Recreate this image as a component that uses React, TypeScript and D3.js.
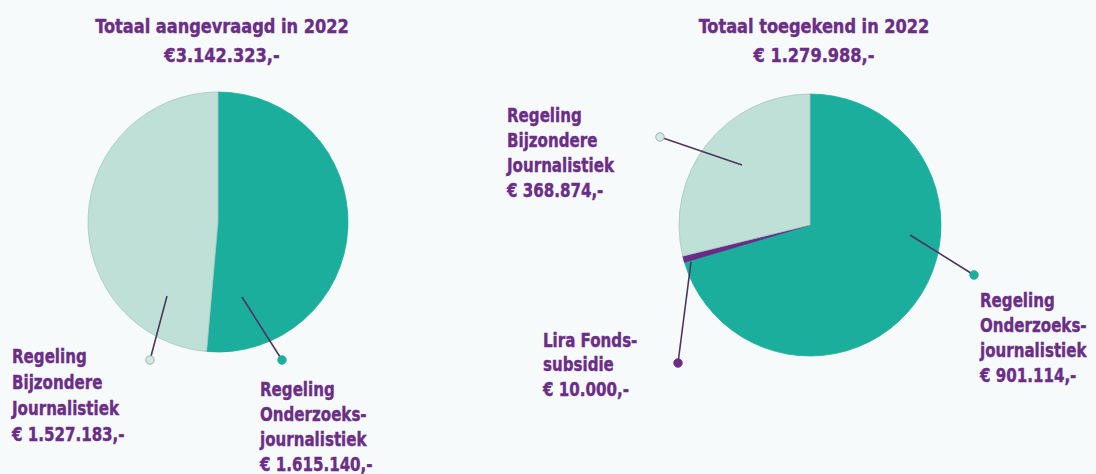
import React from "react";
import * as d3 from "d3";

const W = 1096;
const H = 474;

// Data
const requestedTitle = ["Totaal aangevraagd in 2022", "€3.142.323,-"];
const grantedTitle = ["Totaal toegekend in 2022", "€ 1.279.988,-"];

const requestedCategories = ["Regeling Onderzoeksjournalistiek", "Regeling Bijzondere Journalistiek"];
const requestedValues = [1615140, 1527183];
const requestedLabelLines = [
  ["Regeling", "Onderzoeks-", "journalistiek", "€ 1.615.140,-"],
  ["Regeling", "Bijzondere", "Journalistiek", "€ 1.527.183,-"],
];

const grantedCategories = ["Regeling Onderzoeksjournalistiek", "Lira Fonds-subsidie", "Regeling Bijzondere Journalistiek"];
const grantedValues = [901114, 10000, 368874];
const grantedLabelLines = [
  ["Regeling", "Onderzoeks-", "journalistiek", "€ 901.114,-"],
  ["Lira Fonds-", "subsidie", "€ 10.000,-"],
  ["Regeling", "Bijzondere", "Journalistiek", "€ 368.874,-"],
];

const COLORS: Record<string, string> = {
  "Regeling Onderzoeksjournalistiek": "#1bae9c",
  "Regeling Bijzondere Journalistiek": "#bfe0d6",
  "Lira Fonds-subsidie": "#6a2a86",
};
const DOT: Record<string, { fill: string; stroke: string }> = {
  "Regeling Onderzoeksjournalistiek": { fill: "#1bae9c", stroke: "#1bae9c" },
  "Regeling Bijzondere Journalistiek": { fill: "#d3e9e1", stroke: "#9cb3ad" },
  "Lira Fonds-subsidie": { fill: "#6a2a86", stroke: "#6a2a86" },
};

const TEXT = "#6b2d86";
const FONT = "'DejaVu Sans Condensed', 'DejaVu Sans', sans-serif";

type LabelLayout = {
  inner: [number, number];
  dot: [number, number];
  text: [number, number];
  lh: number;
};

function Pie({
  cx, cy, r, categories, values, title, labels, layout,
}: {
  cx: number; cy: number; r: number;
  categories: string[]; values: number[]; title: string[];
  labels: string[][]; layout: LabelLayout[];
}) {
  const pie = d3.pie<number>().sort(null).startAngle(0).endAngle(2 * Math.PI);
  const arcs = pie(values);
  const arc = d3.arc<d3.PieArcDatum<number>>().innerRadius(0).outerRadius(r);
  return (
    <g>
      <g transform={`translate(${cx},${cy})`}>
        {arcs.map((a, i) => (
          <path
            key={i}
            d={arc(a) || ""}
            fill={COLORS[categories[i]]}
            stroke={categories[i] === "Regeling Bijzondere Journalistiek" ? "#a8c6bd" : COLORS[categories[i]]}
            strokeWidth={0.8}
          />
        ))}
      </g>
      <g transform={`translate(${cx + 4},0) scale(0.9,1)`}>
        <text x={0} y={33} textAnchor="middle" fill={TEXT} stroke={TEXT} strokeWidth={0.4} fontFamily={FONT} fontWeight="bold" fontSize={20}>
          {title[0]}
        </text>
        <text x={0} y={62} textAnchor="middle" fill={TEXT} stroke={TEXT} strokeWidth={0.4} fontFamily={FONT} fontWeight="bold" fontSize={20}>
          {title[1]}
        </text>
      </g>
      {layout.map((l, i) => {
        const d = DOT[categories[i]];
        return (
          <g key={i}>
            <line x1={l.inner[0]} y1={l.inner[1]} x2={l.dot[0]} y2={l.dot[1]} stroke="#4e3560" strokeWidth={1.6} />
            <circle cx={l.dot[0]} cy={l.dot[1]} r={4.2} fill={d.fill} stroke={d.stroke} strokeWidth={1} />
            <g transform={`translate(${l.text[0]},${l.text[1]}) scale(0.86,1)`}>
              <text fill={TEXT} stroke={TEXT} strokeWidth={0.4} fontFamily={FONT} fontWeight="bold" fontSize={19.5}>
                {labels[i].map((line, j) => (
                  <tspan key={j} x={0} y={j * l.lh}>
                    {line}
                  </tspan>
                ))}
              </text>
            </g>
          </g>
        );
      })}
    </g>
  );
}

export default function App() {
  return (
    <svg width={W} height={H} style={{ position: "absolute", left: 0, top: 0 }}>
      <rect x={0} y={0} width={W} height={H} fill="#f6fafa" />
      <Pie
        cx={218}
        cy={222}
        r={130}
        categories={requestedCategories}
        values={requestedValues}
        title={requestedTitle}
        labels={requestedLabelLines}
        layout={[
          { inner: [242, 297], dot: [282, 360], text: [260, 396], lh: 25 },
          { inner: [167, 296], dot: [150, 360], text: [12, 363], lh: 26 },
        ]}
      />
      <Pie
        cx={810}
        cy={225}
        r={131}
        categories={grantedCategories}
        values={grantedValues}
        title={grantedTitle}
        labels={grantedLabelLines}
        layout={[
          { inner: [910, 235], dot: [974, 275], text: [980, 307], lh: 25 },
          { inner: [691, 262], dot: [678, 363], text: [543, 347], lh: 24.5 },
          { inner: [742, 165], dot: [660, 137], text: [507, 122], lh: 25 },
        ]}
      />
    </svg>
  );
}
